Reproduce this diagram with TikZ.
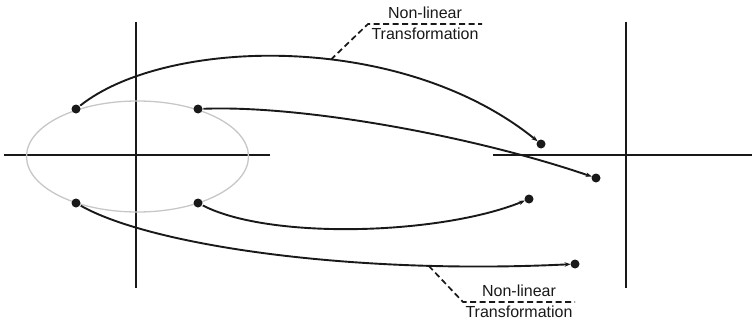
\documentclass[tikz,border=0pt]{standalone}
\usepackage{fontspec}
\setmainfont{Liberation Sans}
\usetikzlibrary{arrows.meta}

\begin{document}
\begin{tikzpicture}[x=1pt, y=-1pt, line width=1.9pt, color=black!90,
        pt/.style={circle, fill, inner sep=0pt, minimum size=9pt},
        map/.style={-{Stealth[length=6pt, width=4.5pt]}, shorten >=-1pt},
        axis/.style={line width=2.3pt},
        leader/.style={dashed, dash pattern=on 6pt off 3.5pt, line width=1.7pt},
        lbl/.style={inner sep=0pt, font=\fontsize{16}{19}\selectfont}]
            \useasboundingbox (0,0) rectangle (752,321);
            % --- Axes ---
            \coordinate (L1) at (4,155);   \coordinate (L2) at (270,155);
            \coordinate (L3) at (136,22);  \coordinate (L4) at (136,288);
            \coordinate (R1) at (493,155); \coordinate (R2) at (752,155);
            \coordinate (R3) at (626,22);  \coordinate (R4) at (626,288);
            \draw[axis] (L1) -- (L2);
            \draw[axis] (L3) -- (L4);
            \draw[axis] (R1) -- (R2);
            \draw[axis] (R3) -- (R4);

            \draw[black!22, line width=1.3pt] (137.5,156.5) ellipse [x radius=111, y radius=55.5];

            % --- Points ---
            \node[pt] (a1) at (76,109) {};
            \node[pt] (a2) at (198,109) {};
            \node[pt] (a3) at (198,203) {};
            \node[pt] (a4) at (76,203) {};
            \node[pt] (b1) at (541,144) {};
            \node[pt] (b2) at (596,178) {};
            \node[pt] (b3) at (529,199) {};
            \node[pt] (b4) at (575,264) {};

            % --- Mappings ---
            \draw[map] (a1) .. controls (165,38) and (400,30) .. coordinate[pos=0.58] (m1) (b1);
            \draw[map] (a2) .. controls (300,105) and (470,135) .. (b2);
            \draw[map] (a3) .. controls (270,240) and (440,235) .. (b3);
            \draw[map] (a4) .. controls (150,245) and (350,275) .. coordinate[pos=0.78] (m4) (b4);

            % --- Labels ---
            \coordinate (k1) at (368,24);  \coordinate (k1e) at (482,24);
            \coordinate (k4) at (463,302); \coordinate (k4e) at (575,302);
            \draw[leader] (m1) -- (k1) -- (k1e);
            \draw[leader] (m4) -- (k4) -- (k4e);
            \node[lbl] (t1) at (425,13) {Non-linear};
            \node[lbl] (u1) at (425,34) {Transformation};
            \node[lbl] (t4) at (519,291) {Non-linear};
            \node[lbl] (u4) at (519,312) {Transformation};
        \end{tikzpicture}
\end{document}
